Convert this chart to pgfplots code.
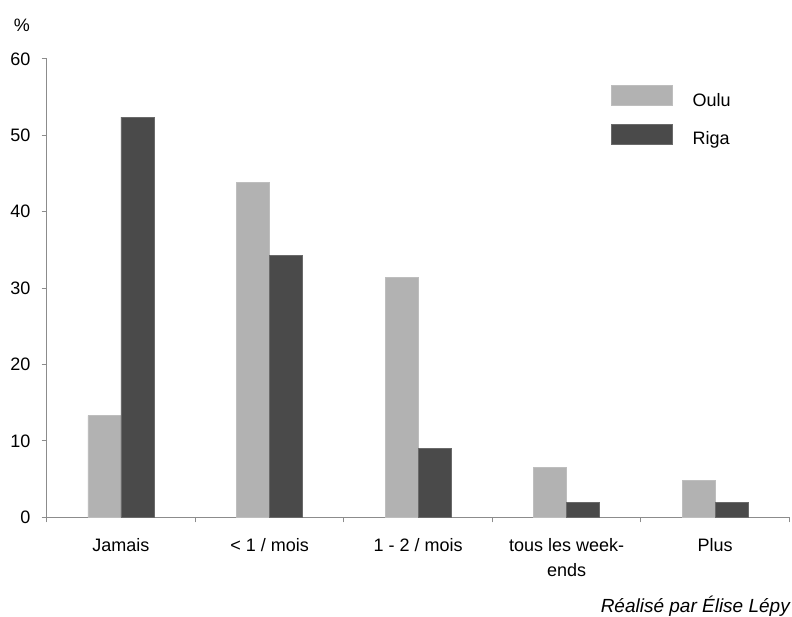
\documentclass[border=0pt]{standalone}
\usepackage{pgfplots}
\pgfplotsset{compat=1.18}
\usepackage{fontspec}
\setmainfont{Liberation Sans}
\definecolor{oulu}{HTML}{B2B2B2}
\definecolor{oulue}{HTML}{BEBEBE}
\definecolor{riga}{HTML}{4A4A4A}
\definecolor{rigae}{HTML}{6A6A6A}
\definecolor{axisgray}{HTML}{8C8C8C}
\pgfplotsset{mylegend/.style={legend image code/.code={\draw[##1] (0pt,-5pt) rectangle (61pt,15pt);}}}
\begin{document}
\begin{tikzpicture}
\path[use as bounding box, fill=white] (-46.7pt,-99.7pt) rectangle (745.3pt,517.3pt);
\begin{axis}[
  at={(0pt,0pt)}, anchor=south west,
  scale only axis, width=742.8pt, height=458.3pt,
  xmin=-0.5, xmax=4.5, ymin=0, ymax=60,
  ybar=0pt, bar width=33pt,
  axis x line*=bottom, axis y line*=left,
  axis line style={axisgray, line width=1.2pt, -},
  ytick={0,10,...,60},
  xtick={-0.5,0.5,...,4.5}, xticklabels={},
  extra x ticks={0,1,2,3,4},
  extra x tick labels={Jamais,{< 1 / mois},{1 - 2 / mois},{tous les week-\\ends},Plus},
  extra x tick style={major tick length=0pt},
  tick align=outside, major tick length=5pt,
  tick style={axisgray, line width=1pt},
  tick label style={font=\fontsize{18}{24.4}\selectfont},
  xticklabel style={align=center, inner sep=0pt, anchor=north, yshift=-21.4pt},
  yticklabel style={anchor=east, inner sep=0pt, xshift=-11pt},
  /pgf/number format/assume math mode=true,
  legend style={draw=none, fill=none, inner sep=0pt, outer sep=0pt,
    at={(axis description cs:0.7593,0.9433)}, anchor=north west,
    row sep=16pt, column sep=20pt, legend cell align=left,
    font=\fontsize{18}{22}\selectfont, nodes={inner sep=0pt}},
]
\addplot[fill=oulu, draw=oulue, line width=0.8pt, mylegend] coordinates {(0,13.3) (1,43.8) (2,31.4) (3,6.5) (4,4.8)};
\addlegendentry{Oulu}
\addplot[fill=riga, draw=rigae, line width=0.8pt, mylegend] coordinates {(0,52.4) (1,34.3) (2,9.0) (3,1.9) (4,1.9)};
\addlegendentry{Riga}
\end{axis}
\node[font=\fontsize{18}{22}\selectfont, inner sep=0pt] at (-24.7pt,491.8pt) {\%};
\node[anchor=east, inner sep=0pt, font=\itshape\fontsize{19}{22}\selectfont] at (743.3pt,-88.7pt) {Réalisé par Élise Lépy};
\end{tikzpicture}
\end{document}
